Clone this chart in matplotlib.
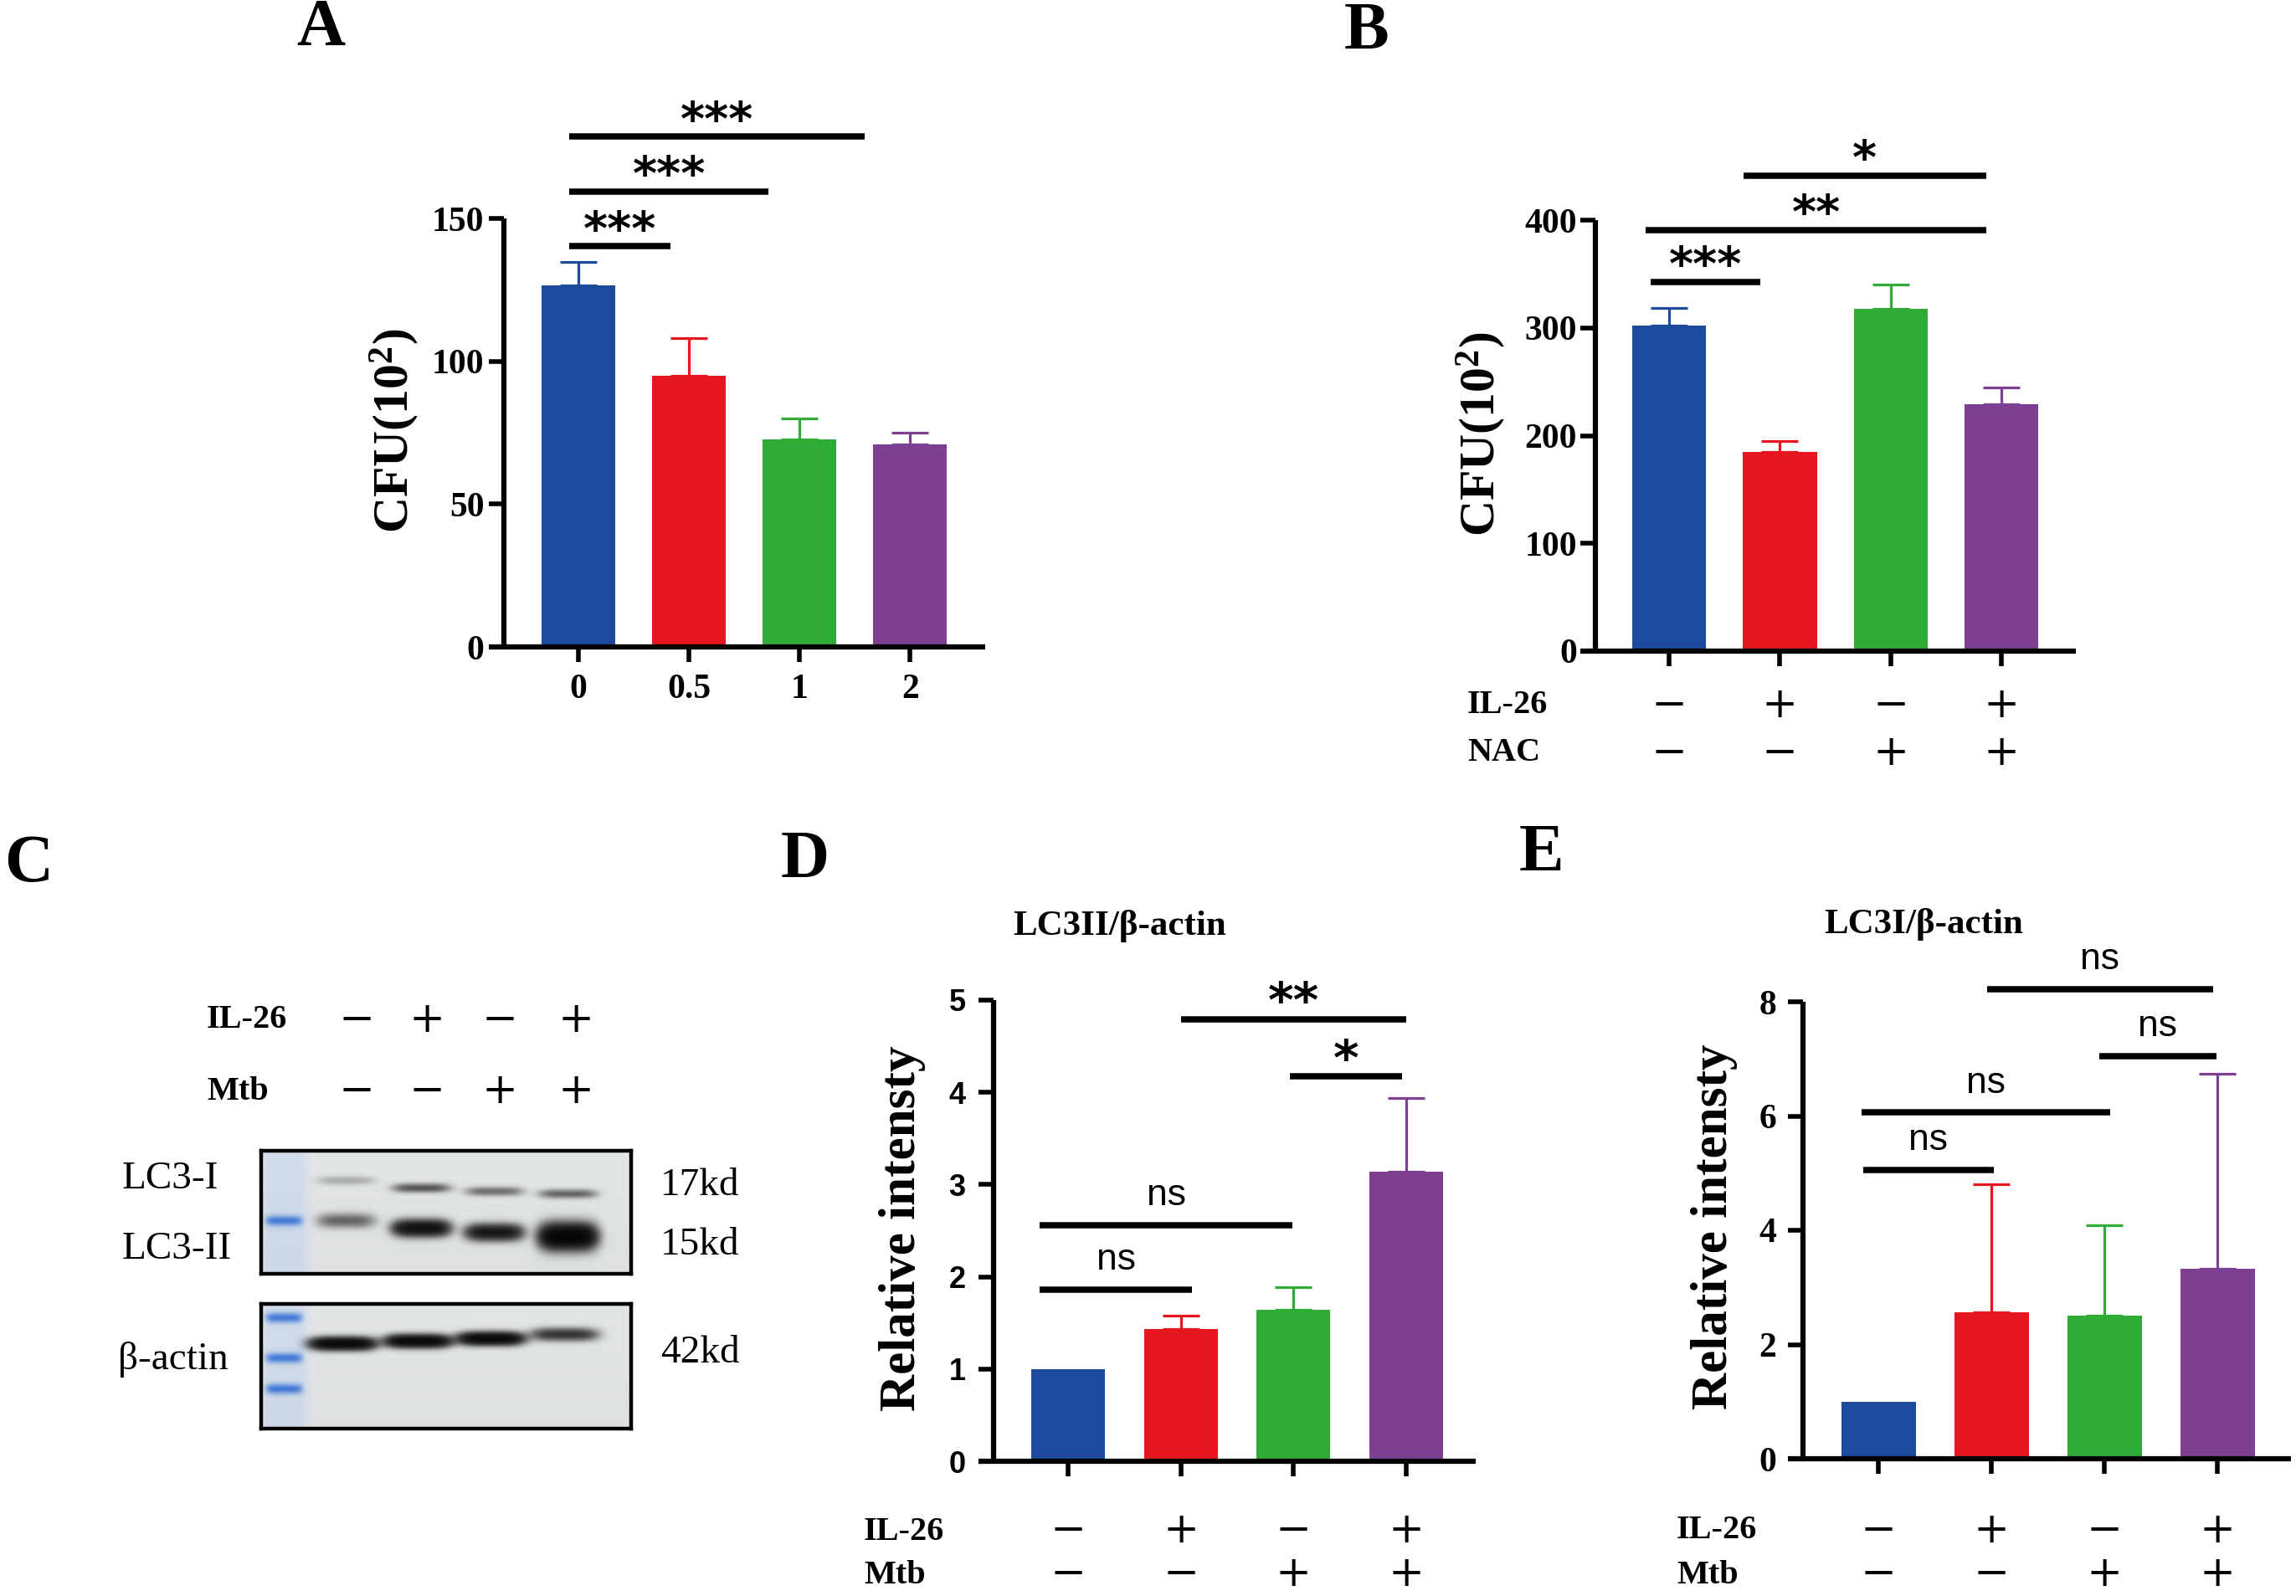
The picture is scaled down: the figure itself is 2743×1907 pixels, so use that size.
import numpy as np
import matplotlib
matplotlib.use('Agg')
import matplotlib.pyplot as plt
from matplotlib import transforms

plt.rcParams['font.family'] = 'Liberation Serif'
plt.rcParams['mathtext.fontset'] = 'custom'
plt.rcParams['mathtext.rm'] = 'Liberation Serif:bold'
plt.rcParams['mathtext.it'] = 'Liberation Serif:bold'
plt.rcParams['mathtext.bf'] = 'Liberation Serif:bold'

W, H = 2743, 1907
DPI = 100

colors = ['#1d4a9c', '#e5161d', '#2eac36', '#7d3f92']

# Panel A: CFU vs IL-26 dose
a_labels = ['0', '0.5', '1', '2']
a_mean = [126.7, 95.0, 72.8, 71.0]
a_err = [8.2, 13.2, 7.1, 3.9]
a_sig = [(-0.08, 0.83, 140.2, '***'), (-0.08, 1.72, 159.5, '***'), (-0.08, 2.59, 178.6, '***')]

# Panel B: CFU, IL-26 / NAC
b_mean = [302.0, 184.7, 317.3, 229.2]
b_err = [16.7, 9.9, 23.2, 15.1]
b_il26 = ['−', '+', '−', '+']
b_nac = ['−', '−', '+', '+']
b_sig = [(-0.17, 0.82, 342.8, '***'), (-0.21, 2.86, 391.0, '**'), (0.67, 2.86, 441.0, '*')]

# Panel D: LC3II/beta-actin
d_mean = [1.0, 1.43, 1.64, 3.14]
d_err = [0.0, 0.15, 0.25, 0.80]
d_sig = [(-0.25, 1.10, 1.86, 'ns'), (-0.25, 1.99, 2.56, 'ns'), (1.97, 2.96, 4.17, '*'), (1.0, 3.0, 4.79, '**')]

# Panel E: LC3I/beta-actin
e_mean = [1.0, 2.57, 2.50, 3.32]
e_err = [0.0, 2.23, 1.59, 3.42]
e_sig = [(-0.14, 1.02, 5.06, 'ns'), (-0.15, 2.05, 6.06, 'ns'), (1.95, 2.99, 7.05, 'ns'), (0.96, 2.96, 8.22, 'ns')]

il26 = ['−', '+', '−', '+']
mtb = ['−', '−', '+', '+']

# Panel C: western blot band positions (px inside blot) and strengths
lane_x = [101, 191, 278, 366]
lc3i_y = [35, 44, 48, 51]
lc3i_amp = [0.18, 0.6, 0.45, 0.5]
lc3ii_y = [83, 92, 97, 102]
lc3ii_amp = [0.5, 1.6, 1.4, 2.2]
lc3ii_h = [8, 9, 9, 14]
actin_y = [47, 44, 41, 36]
actin_amp = [1.9, 1.9, 1.9, 0.9]
marker1_y = [83]
marker2_y = [16, 64, 101]

fig = plt.figure(figsize=(W / DPI, H / DPI), dpi=DPI)

SIGN_FONT = 'DejaVu Serif'
SIGN_SIZE = 37


def box(x0, y0, x1, y1):
    return [x0 / W, 1 - y1 / H, (x1 - x0) / W, (y1 - y0) / H]


def fy(y):
    return 1 - y / H


def bar_panel(rect, xlim, ylim, yticks, mean, err, width, tickfont, tickpad):
    ax = fig.add_axes(rect)
    x = np.arange(len(mean))
    ax.bar(x, mean, width=width, color=colors, zorder=2)
    for i in range(len(mean)):
        if err[i] > 0:
            ax.errorbar(x[i], mean[i], yerr=[[0], [err[i]]], color=colors[i],
                        lw=2.3, capsize=15.5, capthick=2.3, zorder=1)
    ax.set_xlim(xlim)
    ax.set_ylim(ylim)
    ax.spines[['top', 'right']].set_visible(False)
    for s in ['left', 'bottom']:
        ax.spines[s].set_linewidth(4.5)
        ax.spines[s].set_capstyle('butt')
    ext = (xlim[1] - xlim[0]) * 18 / (rect[2] * W)
    ax.spines['bottom'].set_bounds(xlim[0] - ext, xlim[1])
    ax.set_yticks(yticks)
    ax.set_xticks(x)
    ax.tick_params(width=4, length=13, direction='out')
    ax.tick_params(axis='y', pad=tickpad)
    for lab in ax.get_yticklabels():
        lab.update(tickfont)
    return ax


def sig(ax, items, size):
    for x0, x1, y, s in items:
        ax.plot([x0, x1], [y, y], color='black', lw=5.4, clip_on=False, solid_capstyle='butt')
        if s == 'ns':
            ax.annotate(s, xy=((x0 + x1) / 2, y), xytext=(0, 17), textcoords='offset points',
                        ha='center', va='baseline', fontsize=32, family='Liberation Sans',
                        annotation_clip=False)
        else:
            ax.annotate(s, xy=((x0 + x1) / 2, y), xytext=(0, 2), textcoords='offset points',
                        ha='center', va='baseline', fontsize=size, family='DejaVu Sans',
                        fontweight='bold', annotation_clip=False)


def sign_row(ax, signs, ypx):
    tr = transforms.blended_transform_factory(ax.transData, fig.transFigure)
    for i, s in enumerate(signs):
        ax.text(i, fy(ypx), s, transform=tr, ha='center', va='center', fontsize=SIGN_SIZE,
                family=SIGN_FONT)


serif_bold = {'family': 'Liberation Serif', 'weight': 'bold', 'size': 30}
sans_bold = {'family': 'Liberation Sans', 'weight': 'bold', 'size': 26}

# ---- A
axA = bar_panel(box(602, 261, 1177, 773), (-0.674, 3.68), (0, 150), [0, 50, 100, 150],
                a_mean, a_err, 0.667, serif_bold, 4)
axA.set_xticklabels(a_labels, fontdict=serif_bold)
axA.tick_params(axis='x', pad=10)
sig(axA, a_sig, 40)
fig.text(471 / W, fy(515), r'CFU(10$^{2}$)', rotation=90, ha='center', va='center',
         fontsize=43, fontweight='bold')

# ---- B
axB = bar_panel(box(1906, 263, 2480, 778), (-0.665, 3.67), (0, 400), [0, 100, 200, 300, 400],
                b_mean, b_err, 0.667, serif_bold, 3)
axB.set_xticklabels([])
sig(axB, b_sig, 40)
fig.text(1769 / W, fy(519), r'CFU(10$^{2}$)', rotation=90, ha='center', va='center',
         fontsize=43, fontweight='bold')
fig.text(1753 / W, fy(843), 'IL-26', ha='left', va='center', fontsize=29, fontweight='bold')
fig.text(1753 / W, fy(900), 'NAC', ha='left', va='center', fontsize=29, fontweight='bold')
sign_row(axB, b_il26, 843)
sign_row(axB, b_nac, 900)

# ---- D
axD = bar_panel(box(1187, 1195, 1763, 1746), (-0.661, 3.615), (0, 5), [0, 1, 2, 3, 4, 5],
                d_mean, d_err, 0.653, sans_bold, 11)
axD.set_xticklabels([])
sig(axD, d_sig, 42)
fig.text(1078 / W, fy(1468), 'Relative intensty', rotation=90, ha='center', va='center',
         fontsize=44, fontweight='bold')
fig.text(1338 / W, fy(1106), 'LC3II/β-actin', ha='center', va='center', fontsize=31,
         fontweight='bold')
fig.text(1032 / W, fy(1830), 'IL-26', ha='left', va='center', fontsize=29, fontweight='bold')
fig.text(1032 / W, fy(1883), 'Mtb', ha='left', va='center', fontsize=29, fontweight='bold')
sign_row(axD, il26, 1829)
sign_row(axD, mtb, 1881)

# ---- E
axE = bar_panel(box(2154, 1197, 2737, 1743), (-0.67, 3.65), (0, 8), [0, 2, 4, 6, 8],
                e_mean, e_err, 0.66, serif_bold, 10)
axE.set_xticklabels([])
sig(axE, e_sig, 40)
fig.text(2048 / W, fy(1466), 'Relative intensty', rotation=90, ha='center', va='center',
         fontsize=44, fontweight='bold')
fig.text(2298 / W, fy(1104), 'LC3I/β-actin', ha='center', va='center', fontsize=31,
         fontweight='bold')
fig.text(2003 / W, fy(1829), 'IL-26', ha='left', va='center', fontsize=29, fontweight='bold')
fig.text(2003 / W, fy(1883), 'Mtb', ha='left', va='center', fontsize=29, fontweight='bold')
sign_row(axE, il26, 1829)
sign_row(axE, mtb, 1881)


# ---- C western blot
def blot_image(h, w, bands, markers, half_w):
    yy, xx = np.mgrid[0:h, 0:w].astype(float)
    dark = np.zeros((h, w))
    for xc, yc, amp, sy in bands:
        dark += amp * np.exp(-(np.abs(xx - xc) / half_w) ** 4) * np.exp(-((yy - yc) / sy) ** 2)
    dark = 1 - np.exp(-1.6 * dark)
    gray = 0.90 - 0.02 * (yy / h)
    img = np.dstack([gray - 0.01, gray, gray + 0.005])
    # marker lane tint
    stripe = np.exp(-((xx - 28) / 27) ** 6)
    img = img + stripe[..., None] * np.array([-0.07, -0.035, 0.02])
    for yc in markers:
        m = np.exp(-((xx - 27) / 22) ** 6) * np.exp(-((yy - yc) / 6) ** 2)
        img = img + m[..., None] * np.array([-0.55, -0.38, -0.08])
    img = img * (1 - dark)[..., None]
    return np.clip(img, 0, 1)


bands1 = [(lane_x[i], lc3i_y[i], lc3i_amp[i], 5) for i in range(4)] + \
         [(lane_x[i], lc3ii_y[i], lc3ii_amp[i], lc3ii_h[i]) for i in range(4)]
bands2 = [(lane_x[i] - 4, actin_y[i], actin_amp[i], 7) for i in range(4)]

blots = [((1375, 1522), bands1, marker1_y, 33), ((1558, 1707), bands2, marker2_y, 38)]
for (y0, y1), bands, markers, hw in blots:
    axb = fig.add_axes(box(312, y0, 754, y1))
    axb.imshow(blot_image(y1 - y0, 442, bands, markers, hw), aspect='auto',
               interpolation='bilinear')
    axb.set_xticks([])
    axb.set_yticks([])
    for s in axb.spines.values():
        s.set_linewidth(3.2)

fig.text(247 / W, fy(1219), 'IL-26', ha='left', va='center', fontsize=29, fontweight='bold')
fig.text(247 / W, fy(1304), 'Mtb', ha='left', va='center', fontsize=29, fontweight='bold')
c_x = [426, 510, 597, 688]
for i in range(4):
    fig.text(c_x[i] / W, fy(1219), il26[i], ha='center', va='center', fontsize=SIGN_SIZE,
             family=SIGN_FONT)
    fig.text(c_x[i] / W, fy(1304), mtb[i], ha='center', va='center', fontsize=SIGN_SIZE,
             family=SIGN_FONT)

fig.text(146 / W, fy(1409), 'LC3-I', ha='left', va='center', fontsize=34)
fig.text(146 / W, fy(1493), 'LC3-II', ha='left', va='center', fontsize=34)
fig.text(141 / W, fy(1624), 'β-actin', ha='left', va='center', fontsize=34)
fig.text(789 / W, fy(1417), '17kd', ha='left', va='center', fontsize=34)
fig.text(789 / W, fy(1488), '15kd', ha='left', va='center', fontsize=34)
fig.text(789 / W, fy(1617), '42kd', ha='left', va='center', fontsize=34)

# panel letters
for s, x, y in [('A', 383, 35), ('B', 1633, 38), ('C', 34, 1034), ('D', 962, 1029), ('E', 1842, 1020)]:
    fig.text(x / W, fy(y), s, ha='center', va='center', fontsize=58, fontweight='bold')

fig.savefig('out.png', dpi=DPI, facecolor='white')
